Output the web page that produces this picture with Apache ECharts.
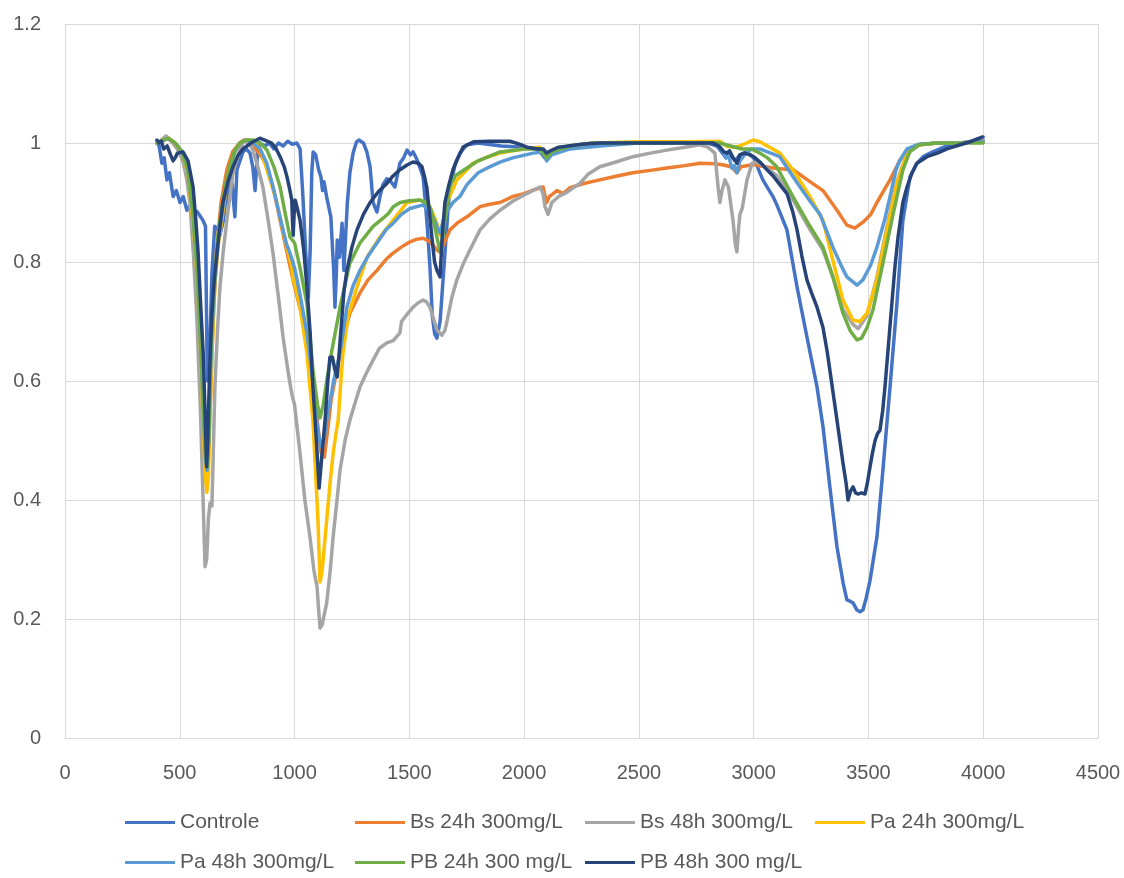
<!DOCTYPE html>
<html>
<head>
<meta charset="utf-8">
<script src="https://cdn.jsdelivr.net/npm/echarts@6/dist/echarts.min.js"></script>
<style>
  html, body { margin: 0; padding: 0; background: #ffffff; }
  #chart { width: 1124px; height: 878px; }
</style>
</head>
<body>
<div id="chart"></div>
<script>
// Spectra: [wavenumber, transmittance] pairs for each sample
const controle = [[400,1.0],[410,0.995],[422,0.966],[432,0.975],[444,0.938],[455,0.95],[471,0.91],[485,0.92],[501,0.9],[515,0.91],[531,0.887],[545,0.895],[558,0.876],[575,0.885],[601,0.87],[612,0.86],[620,0.6],[628,0.62],[640,0.78],[652,0.86],[665,0.855],[675,0.845],[690,0.87],[705,0.92],[712,0.9],[719,0.945],[728,0.93],[740,0.876],[749,0.955],[762,0.97],[775,0.985],[790,0.99],[806,0.983],[818,0.96],[828,0.92],[838,0.98],[849,1.0],[870,0.995],[890,1.0],[910,0.99],[930,1.0],[950,0.995],[970,1.003],[990,0.998],[1010,1.0],[1024,0.99],[1035,0.92],[1048,0.82],[1060,0.74],[1068,0.82],[1075,0.95],[1081,0.985],[1092,0.98],[1105,0.955],[1115,0.943],[1122,0.92],[1128,0.935],[1140,0.909],[1158,0.876],[1170,0.79],[1176,0.724],[1182,0.78],[1186,0.837],[1195,0.808],[1207,0.865],[1215,0.786],[1222,0.84],[1230,0.9],[1241,0.95],[1255,0.983],[1270,1.002],[1280,1.005],[1300,1.0],[1315,0.985],[1329,0.96],[1342,0.9],[1359,0.884],[1372,0.91],[1385,0.93],[1402,0.94],[1420,0.935],[1437,0.926],[1450,0.95],[1459,0.966],[1475,0.975],[1490,0.988],[1505,0.98],[1516,0.985],[1530,0.975],[1545,0.96],[1560,0.943],[1570,0.9],[1580,0.85],[1590,0.79],[1600,0.71],[1610,0.68],[1620,0.672],[1634,0.7],[1645,0.76],[1655,0.815],[1667,0.88],[1677,0.926],[1700,0.965],[1720,0.983],[1750,0.997],[1800,1.0],[1900,0.995],[2000,0.993],[2060,0.99],[2090,0.975],[2110,0.98],[2150,0.99],[2200,0.995],[2300,1.0],[2500,1.0],[2700,1.0],[2800,1.0],[2840,0.995],[2860,0.985],[2880,0.975],[2900,0.98],[2920,0.97],[2940,0.98],[2970,0.985],[3000,0.975],[3040,0.938],[3084,0.91],[3101,0.896],[3145,0.854],[3189,0.758],[3232,0.674],[3276,0.59],[3302,0.523],[3332,0.422],[3363,0.321],[3390,0.26],[3406,0.232],[3420,0.23],[3433,0.227],[3450,0.215],[3463,0.212],[3476,0.215],[3490,0.235],[3507,0.265],[3537,0.338],[3563,0.45],[3594,0.59],[3624,0.73],[3650,0.87],[3681,0.943],[3710,0.965],[3738,0.977],[3780,0.985],[3842,0.995],[3900,1.0],[3950,1.003],[4000,1.01]];

const bs24 = [[400,1.0],[430,1.005],[450,1.008],[470,1.0],[500,0.985],[530,0.95],[555,0.88],[575,0.76],[592,0.6],[605,0.48],[615,0.43],[622,0.44],[632,0.55],[645,0.7],[660,0.82],[680,0.9],[705,0.955],[730,0.985],[760,1.0],[780,1.005],[800,1.0],[830,0.99],[860,0.975],[880,0.96],[910,0.92],[937,0.87],[965,0.82],[993,0.77],[1025,0.72],[1054,0.674],[1080,0.6],[1100,0.53],[1115,0.48],[1130,0.472],[1145,0.52],[1160,0.57],[1184,0.618],[1210,0.67],[1241,0.714],[1285,0.748],[1320,0.77],[1359,0.786],[1400,0.805],[1429,0.815],[1465,0.825],[1503,0.834],[1530,0.838],[1560,0.84],[1585,0.835],[1603,0.829],[1620,0.82],[1633,0.817],[1650,0.83],[1677,0.854],[1710,0.866],[1751,0.876],[1808,0.893],[1850,0.897],[1895,0.9],[1950,0.91],[2000,0.915],[2039,0.921],[2083,0.926],[2092,0.91],[2098,0.9],[2110,0.91],[2143,0.92],[2170,0.915],[2200,0.925],[2260,0.932],[2330,0.938],[2400,0.944],[2474,0.95],[2550,0.954],[2622,0.958],[2700,0.962],[2766,0.966],[2830,0.965],[2870,0.963],[2900,0.96],[2915,0.955],[2927,0.95],[2945,0.96],[2998,0.964],[3050,0.96],[3100,0.957],[3172,0.955],[3245,0.935],[3302,0.92],[3363,0.887],[3406,0.862],[3441,0.857],[3476,0.867],[3510,0.88],[3537,0.9],[3594,0.938],[3637,0.971],[3668,0.988],[3724,0.997],[3800,1.0],[3900,1.0],[4000,1.003]];

const bs48 = [[400,1.0],[420,1.005],[440,1.012],[460,1.005],[490,0.99],[514,0.97],[530,0.94],[544,0.9],[560,0.81],[575,0.7],[590,0.55],[600,0.42],[610,0.288],[617,0.3],[625,0.37],[632,0.395],[640,0.39],[646,0.48],[653,0.59],[665,0.69],[675,0.758],[690,0.82],[705,0.87],[732,0.95],[762,0.988],[780,1.005],[800,1.0],[819,0.988],[840,0.96],[862,0.926],[885,0.87],[906,0.815],[930,0.74],[950,0.674],[970,0.62],[985,0.585],[990,0.575],[1000,0.56],[1024,0.478],[1045,0.4],[1067,0.338],[1085,0.28],[1098,0.254],[1105,0.215],[1111,0.185],[1120,0.19],[1140,0.227],[1155,0.28],[1168,0.338],[1185,0.4],[1198,0.45],[1220,0.5],[1241,0.534],[1265,0.565],[1285,0.59],[1315,0.615],[1342,0.635],[1370,0.655],[1402,0.664],[1430,0.668],[1459,0.681],[1466,0.7],[1490,0.712],[1516,0.724],[1540,0.732],[1560,0.736],[1575,0.733],[1590,0.724],[1605,0.705],[1620,0.686],[1642,0.677],[1655,0.685],[1664,0.7],[1685,0.74],[1707,0.77],[1735,0.797],[1764,0.82],[1808,0.854],[1850,0.872],[1895,0.887],[1950,0.902],[2012,0.915],[2069,0.926],[2082,0.915],[2091,0.893],[2104,0.88],[2121,0.9],[2150,0.91],[2186,0.917],[2215,0.925],[2243,0.932],[2280,0.948],[2330,0.96],[2400,0.968],[2474,0.977],[2550,0.983],[2622,0.988],[2700,0.993],[2766,0.997],[2800,0.993],[2831,0.983],[2845,0.926],[2853,0.9],[2862,0.92],[2875,0.938],[2890,0.926],[2910,0.87],[2920,0.83],[2927,0.817],[2935,0.86],[2940,0.88],[2950,0.89],[2971,0.938],[2993,0.966],[3014,0.968],[3050,0.96],[3101,0.945],[3171,0.905],[3245,0.855],[3302,0.82],[3345,0.775],[3389,0.72],[3433,0.695],[3455,0.688],[3494,0.71],[3537,0.775],[3581,0.86],[3624,0.935],[3668,0.983],[3720,0.997],[3800,1.0],[3900,1.0],[4000,1.005]];

const pa24 = [[400,1.0],[430,1.005],[450,1.008],[480,1.0],[510,0.985],[535,0.95],[557,0.87],[575,0.78],[590,0.66],[600,0.55],[610,0.45],[618,0.413],[625,0.44],[632,0.55],[640,0.647],[653,0.76],[668,0.83],[683,0.87],[700,0.92],[719,0.955],[740,0.985],[762,1.0],[790,1.005],[820,1.003],[850,0.99],[880,0.955],[900,0.93],[923,0.9],[945,0.86],[967,0.825],[988,0.79],[993,0.77],[1000,0.765],[1024,0.724],[1054,0.647],[1080,0.534],[1095,0.42],[1102,0.366],[1111,0.262],[1120,0.28],[1140,0.366],[1155,0.43],[1168,0.478],[1180,0.51],[1190,0.534],[1200,0.59],[1211,0.647],[1233,0.708],[1272,0.758],[1316,0.808],[1372,0.842],[1429,0.87],[1460,0.885],[1490,0.9],[1546,0.904],[1575,0.9],[1590,0.893],[1620,0.865],[1634,0.845],[1648,0.87],[1664,0.9],[1707,0.938],[1751,0.955],[1777,0.966],[1830,0.975],[1895,0.983],[1950,0.987],[2000,0.99],[2069,0.993],[2098,0.982],[2130,0.99],[2200,0.995],[2300,1.0],[2500,1.002],[2700,1.002],[2853,1.003],[2880,0.995],[2910,0.993],[2940,0.995],[2970,1.0],[2997,1.005],[3027,1.002],[3060,0.995],[3114,0.983],[3171,0.955],[3245,0.91],[3302,0.87],[3345,0.803],[3389,0.736],[3433,0.702],[3463,0.7],[3494,0.714],[3537,0.77],[3581,0.854],[3624,0.932],[3668,0.983],[3720,0.997],[3800,1.0],[3900,1.0],[4000,1.003]];

const pa48 = [[400,1.0],[430,1.005],[450,1.007],[480,1.0],[510,0.985],[535,0.955],[557,0.88],[575,0.79],[590,0.67],[602,0.55],[612,0.47],[619,0.45],[626,0.5],[633,0.6],[640,0.68],[653,0.77],[668,0.84],[683,0.88],[700,0.925],[719,0.958],[740,0.985],[762,1.0],[790,1.005],[820,1.0],[850,0.99],[880,0.965],[910,0.92],[940,0.87],[965,0.83],[980,0.815],[1000,0.79],[1024,0.745],[1054,0.68],[1080,0.6],[1100,0.52],[1115,0.49],[1128,0.5],[1140,0.534],[1170,0.6],[1198,0.647],[1228,0.724],[1255,0.76],[1285,0.786],[1320,0.81],[1359,0.832],[1400,0.855],[1429,0.865],[1465,0.88],[1503,0.89],[1560,0.896],[1590,0.885],[1610,0.87],[1625,0.855],[1634,0.849],[1648,0.87],[1664,0.885],[1690,0.9],[1720,0.91],[1751,0.93],[1800,0.95],[1850,0.96],[1895,0.968],[1950,0.975],[2039,0.983],[2080,0.985],[2098,0.97],[2120,0.98],[2200,0.99],[2330,0.995],[2500,1.0],[2700,1.0],[2835,1.0],[2860,0.99],[2880,0.975],[2890,0.98],[2905,0.958],[2915,0.962],[2927,0.95],[2940,0.97],[2960,0.98],[2990,0.99],[3027,0.99],[3060,0.985],[3114,0.977],[3160,0.95],[3202,0.926],[3250,0.9],[3289,0.88],[3320,0.85],[3345,0.825],[3380,0.795],[3406,0.775],[3450,0.761],[3476,0.77],[3510,0.795],[3537,0.825],[3570,0.87],[3594,0.91],[3620,0.955],[3637,0.971],[3668,0.99],[3720,0.998],[3800,1.0],[3900,1.0],[4000,1.003]];

const pb24 = [[400,1.0],[430,1.005],[450,1.008],[480,1.0],[510,0.985],[535,0.955],[557,0.885],[575,0.79],[590,0.67],[602,0.56],[612,0.48],[619,0.455],[626,0.5],[633,0.62],[640,0.7],[653,0.78],[668,0.85],[683,0.89],[700,0.93],[719,0.962],[740,0.988],[762,1.0],[790,1.005],[820,1.005],[850,1.0],[880,0.988],[910,0.96],[937,0.926],[960,0.88],[980,0.842],[1000,0.832],[1024,0.79],[1054,0.73],[1080,0.618],[1100,0.56],[1111,0.538],[1125,0.56],[1140,0.6],[1163,0.652],[1198,0.724],[1241,0.798],[1285,0.832],[1342,0.86],[1387,0.874],[1410,0.882],[1430,0.893],[1460,0.9],[1500,0.903],[1546,0.904],[1575,0.9],[1595,0.887],[1620,0.842],[1634,0.817],[1645,0.84],[1655,0.87],[1675,0.926],[1700,0.945],[1751,0.958],[1800,0.97],[1895,0.985],[2000,0.99],[2069,0.99],[2098,0.975],[2120,0.985],[2200,0.995],[2300,1.0],[2500,1.0],[2700,1.0],[2850,1.0],[2900,0.995],[2950,0.99],[2990,0.99],[3027,0.983],[3060,0.975],[3101,0.96],[3171,0.91],[3245,0.86],[3302,0.825],[3345,0.775],[3389,0.714],[3420,0.685],[3450,0.669],[3470,0.672],[3494,0.69],[3520,0.72],[3563,0.798],[3607,0.88],[3650,0.955],[3680,0.985],[3720,0.997],[3800,1.0],[3900,1.0],[4000,1.0]];

const pb48 = [[400,1.005],[410,1.0],[420,1.003],[430,0.99],[445,0.995],[460,0.98],[471,0.97],[480,0.975],[490,0.983],[514,0.985],[536,0.97],[558,0.926],[570,0.87],[580,0.815],[592,0.72],[602,0.647],[610,0.55],[617,0.456],[622,0.5],[630,0.62],[640,0.714],[650,0.77],[662,0.815],[675,0.86],[688,0.9],[710,0.935],[732,0.96],[755,0.98],[775,0.99],[800,0.997],[819,1.002],[849,1.008],[870,1.005],[900,1.0],[920,0.99],[937,0.977],[955,0.96],[967,0.943],[980,0.92],[988,0.904],[991,0.87],[994,0.845],[998,0.88],[1003,0.904],[1012,0.89],[1024,0.87],[1040,0.82],[1054,0.758],[1068,0.68],[1080,0.59],[1095,0.5],[1107,0.42],[1118,0.47],[1133,0.534],[1145,0.6],[1154,0.64],[1165,0.64],[1175,0.62],[1186,0.607],[1195,0.65],[1205,0.7],[1215,0.75],[1228,0.786],[1250,0.825],[1272,0.854],[1300,0.88],[1329,0.9],[1365,0.918],[1402,0.932],[1430,0.945],[1459,0.955],[1490,0.963],[1516,0.968],[1540,0.966],[1555,0.96],[1565,0.945],[1576,0.926],[1587,0.885],[1598,0.842],[1610,0.8],[1620,0.786],[1634,0.775],[1643,0.842],[1655,0.9],[1670,0.926],[1690,0.955],[1707,0.971],[1734,0.993],[1780,1.002],[1850,1.003],[1938,1.003],[1980,0.998],[2012,0.993],[2060,0.99],[2083,0.99],[2098,0.983],[2115,0.987],[2150,0.993],[2250,0.998],[2330,1.0],[2500,1.0],[2700,1.0],[2820,1.0],[2840,0.997],[2853,0.993],[2870,0.985],[2884,0.983],[2895,0.987],[2910,0.975],[2920,0.97],[2927,0.966],[2940,0.98],[2960,0.983],[2985,0.98],[3000,0.977],[3030,0.967],[3058,0.955],[3084,0.945],[3114,0.93],[3145,0.915],[3170,0.885],[3189,0.854],[3210,0.81],[3232,0.77],[3255,0.745],[3276,0.724],[3302,0.69],[3320,0.65],[3332,0.618],[3363,0.534],[3389,0.462],[3402,0.43],[3411,0.4],[3422,0.415],[3433,0.422],[3444,0.412],[3454,0.41],[3470,0.412],[3485,0.41],[3496,0.43],[3507,0.456],[3518,0.48],[3529,0.5],[3540,0.512],[3550,0.517],[3562,0.55],[3572,0.59],[3587,0.66],[3602,0.73],[3615,0.79],[3629,0.842],[3650,0.9],[3668,0.926],[3690,0.95],[3711,0.966],[3755,0.977],[3800,0.983],[3842,0.99],[3900,0.997],[3950,1.003],[3995,1.01]];

const seriesNames = ['Controle', 'Bs 24h 300mg/L', 'Bs 48h 300mg/L', 'Pa 24h 300mg/L', 'Pa 48h 300mg/L', 'PB 24h 300 mg/L', 'PB 48h 300 mg/L'];
const seriesData = [controle, bs24, bs48, pa24, pa48, pb24, pb48];
const seriesColors = ['#4472C4', '#ED7D31', '#A5A5A5', '#FFC000', '#5B9BD5', '#70AD47', '#264478'];

// Axis ranges / tick steps
const xMin = 0, xMax = 4500, xStep = 500;
const yMin = 0, yMax = 1.2, yStep = 0.2;

const chart = echarts.init(document.getElementById('chart'), null, { renderer: 'canvas' });

const labelColor = '#595959';
const gridColor = '#D9D9D9';
const fontFamily = 'Liberation Sans, Arial, sans-serif';

// Legend laid out as a 4-column grid, two rows
const legends = seriesNames.map((name, i) => ({
  data: [name],
  left: 125 + (i % 4) * 230,
  top: 812 + Math.floor(i / 4) * 40,
  icon: 'rect',
  itemWidth: 50,
  itemHeight: 3,
  itemGap: 0,
  padding: 0,
  selectedMode: false,
  textStyle: { color: labelColor, fontSize: 21, fontFamily }
}));

const option = {
  animation: false,
  backgroundColor: '#ffffff',
  color: seriesColors,
  grid: { left: 65, right: 26, top: 24, bottom: 140, containLabel: false },
  legend: legends,
  xAxis: {
    type: 'value',
    min: xMin, max: xMax, interval: xStep,
    axisLine: { show: true, lineStyle: { color: gridColor, width: 1 } },
    axisTick: { show: false },
    splitLine: { show: true, lineStyle: { color: gridColor, width: 1 } },
    axisLabel: { color: labelColor, fontSize: 20, margin: 25, fontFamily, formatter: v => String(v) }
  },
  yAxis: {
    type: 'value',
    min: yMin, max: yMax, interval: yStep,
    axisLine: { show: false },
    axisTick: { show: false },
    splitLine: { show: true, lineStyle: { color: gridColor, width: 1 } },
    axisLabel: {
      color: labelColor, fontSize: 20, margin: 24, fontFamily,
      formatter: v => String(Math.round(v * 10) / 10)
    }
  },
  series: seriesNames.map((name, i) => ({
    name,
    type: 'line',
    data: seriesData[i],
    showSymbol: false,
    symbol: 'none',
    smooth: false,
    lineStyle: { width: 3.5, color: seriesColors[i], join: 'round', cap: 'round' },
    itemStyle: { color: seriesColors[i] },
    emphasis: { disabled: true }
  }))
};

chart.setOption(option);
</script>
</body>
</html>
